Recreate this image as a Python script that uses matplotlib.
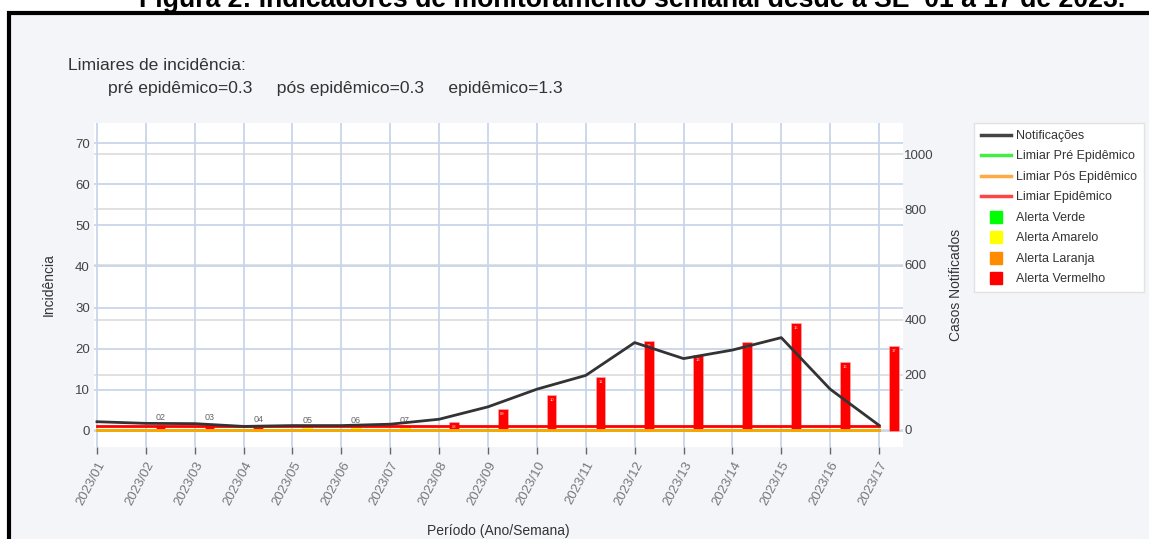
import numpy as np
import matplotlib
matplotlib.use('Agg')
import matplotlib.pyplot as plt
from matplotlib.lines import Line2D
from matplotlib.patches import Rectangle

plt.rcParams['font.family'] = ['Liberation Sans', 'DejaVu Sans']

# semanas epidemiologicas
semanas = ['2023/%02d' % s for s in range(1, 18)]
rotulos_barras = ['%02d' % s for s in range(1, 18)]

# casos notificados por semana (eixo direito)
notificacoes = [30, 24, 23, 13, 16, 16, 21, 39, 84, 148, 198, 317, 259, 290, 335, 148, 17]

# incidencia por semana (eixo esquerdo); semana 01 sem barra
incidencia = [np.nan, 1.4, 1.4, 1.0, 0.9, 0.9, 0.9, 2.2, 5.3, 8.8, 13.1, 21.9, 18.5, 21.6, 26.2, 16.8, 20.7]
alerta = [None, 'vermelho', 'vermelho', 'vermelho', 'amarelo', 'amarelo', 'amarelo',
          'vermelho', 'vermelho', 'vermelho', 'vermelho', 'vermelho', 'vermelho',
          'vermelho', 'vermelho', 'vermelho', 'vermelho']

limiar_pre = 0.3
limiar_pos = 0.3
limiar_epi = 1.3

cores_alerta = {'verde': '#00ff00', 'amarelo': '#ffff00', 'laranja': '#ff8c00', 'vermelho': '#ff0000'}

W, H = 1149, 539
fig = plt.figure(figsize=(W / 100, H / 100), dpi=100, facecolor='white')

# moldura
fig.patches.append(Rectangle((9 / W, -0.2), 1.2, 1.2 - 13.3 / H, transform=fig.transFigure,
                             facecolor='#f4f5f9', edgecolor='black', linewidth=3, zorder=-10))

fig.text(632 / W, 1 - 7.3 / H, 'Figura 2: Indicadores de monitoramento semanal desde a SE  01 a 17 de 2023.',
         ha='center', va='baseline', fontsize=19.2, fontweight='bold', color='black')

ax = fig.add_axes([94 / W, 1 - 447 / H, (903 - 94) / W, (447 - 123) / H])
ax.set_facecolor('white')
ax2 = ax.twinx()

x = np.arange(len(semanas))
lim_esq = (-3.89, 74.87)
lim_dir = (-61.7, 1113.5)
ax.set_xlim(-0.061, 16.49)
ax.set_ylim(*lim_esq)
ax2.set_ylim(*lim_dir)

# grades
ax.set_yticks(np.arange(0, 71, 10))
ax2.set_yticks(np.arange(0, 1001, 200))
ax.set_xticks(x)
ax.grid(True, color='#c9d6ea', linewidth=1.3, zorder=0)
ax.set_axisbelow(True)
for v in ax2.get_yticks():
    yv = lim_esq[0] + (v - lim_dir[0]) / (lim_dir[1] - lim_dir[0]) * (lim_esq[1] - lim_esq[0])
    ax.axhline(yv, color='#dcdcdc', linewidth=1.2, zorder=0.5)

# barras de incidencia
cores = [cores_alerta[a] if a else 'none' for a in alerta]
barras = ax.bar(x + 0.3, incidencia, width=0.2, color=cores, edgecolor='#ffb0b0', linewidth=0.4, zorder=2)
for xi, val, rot in zip(x, incidencia, rotulos_barras):
    if np.isnan(val):
        continue
    if val < 2:
        ax.annotate(rot, (xi + 0.3, val), xytext=(0, 2), textcoords='offset points',
                    ha='center', va='bottom', fontsize=6.5, color='#666666', zorder=5)
    else:
        ax.annotate(rot, (xi + 0.3, val), xytext=(0, -2), textcoords='offset points',
                    ha='center', va='top', fontsize=3, color='#ffdddd', zorder=5)

# limiares
ax.plot(x, [limiar_pre] * len(x), color='#33ee33', linewidth=2, zorder=3)
ax.plot(x, [limiar_pos] * len(x), color='#ffa500', linewidth=2, zorder=3)
ax.plot(x, [limiar_epi] * len(x), color='#ff0000', linewidth=2, zorder=3)

# notificacoes
ax2.plot(x, notificacoes, color='#333333', linewidth=2, zorder=4)

for a in (ax, ax2):
    for s in a.spines.values():
        s.set_visible(False)

ax.set_xticklabels(semanas, rotation=62, ha='right', va='top', rotation_mode='anchor',
                   fontsize=9.5, color='#777777')
ax.tick_params(axis='x', length=5, width=1, color='#666666', pad=4)
ax.tick_params(axis='y', length=0, labelsize=9.5, labelcolor='#444444', pad=3)
ax2.tick_params(axis='y', length=0, labelsize=9.5, labelcolor='#444444', pad=1)

ax.set_ylabel('Incidência', fontsize=10, color='#333333', labelpad=14)
ax2.set_ylabel('Casos Notificados', fontsize=10, color='#333333', labelpad=11)
ax.set_xlabel('Período (Ano/Semana)', fontsize=10, color='#333333', labelpad=12)

fig.text(68 / W, 1 - 65 / H, 'Limiares de incidência:', fontsize=12.6, color='#333333', va='center')
fig.text(108 / W, 1 - 88 / H,
         'pré epidêmico=%.1f     pós epidêmico=%.1f     epidêmico=%.1f' % (limiar_pre, limiar_pos, limiar_epi),
         fontsize=12.6, color='#333333', va='center')

handles = [
    Line2D([], [], color='#444444', linewidth=2.5),
    Line2D([], [], color='#44ee44', linewidth=2.5),
    Line2D([], [], color='#ffaa44', linewidth=2.5),
    Line2D([], [], color='#ff4444', linewidth=2.5),
    Line2D([], [], linestyle='none', marker='s', markersize=8.5, color=cores_alerta['verde']),
    Line2D([], [], linestyle='none', marker='s', markersize=8.5, color=cores_alerta['amarelo']),
    Line2D([], [], linestyle='none', marker='s', markersize=8.5, color=cores_alerta['laranja']),
    Line2D([], [], linestyle='none', marker='s', markersize=8.5, color=cores_alerta['vermelho']),
]
labels = ['Notificações', 'Limiar Pré Epidêmico', 'Limiar Pós Epidêmico', 'Limiar Epidêmico',
          'Alerta Verde', 'Alerta Amarelo', 'Alerta Laranja', 'Alerta Vermelho']
leg = fig.legend(handles, labels, loc='upper left', bbox_to_anchor=(974 / W, 1 - 123 / H),
                 fontsize=9, frameon=True, fancybox=False, edgecolor='#e2e2e2', facecolor='white',
                 framealpha=1, borderaxespad=0, borderpad=0.55, handlelength=2.4, handletextpad=0.4,
                 labelspacing=0.68)
leg.get_frame().set_linewidth(1)
for t in leg.get_texts():
    t.set_color('#333333')

fig.savefig('out.png', dpi=100, facecolor=fig.get_facecolor())
